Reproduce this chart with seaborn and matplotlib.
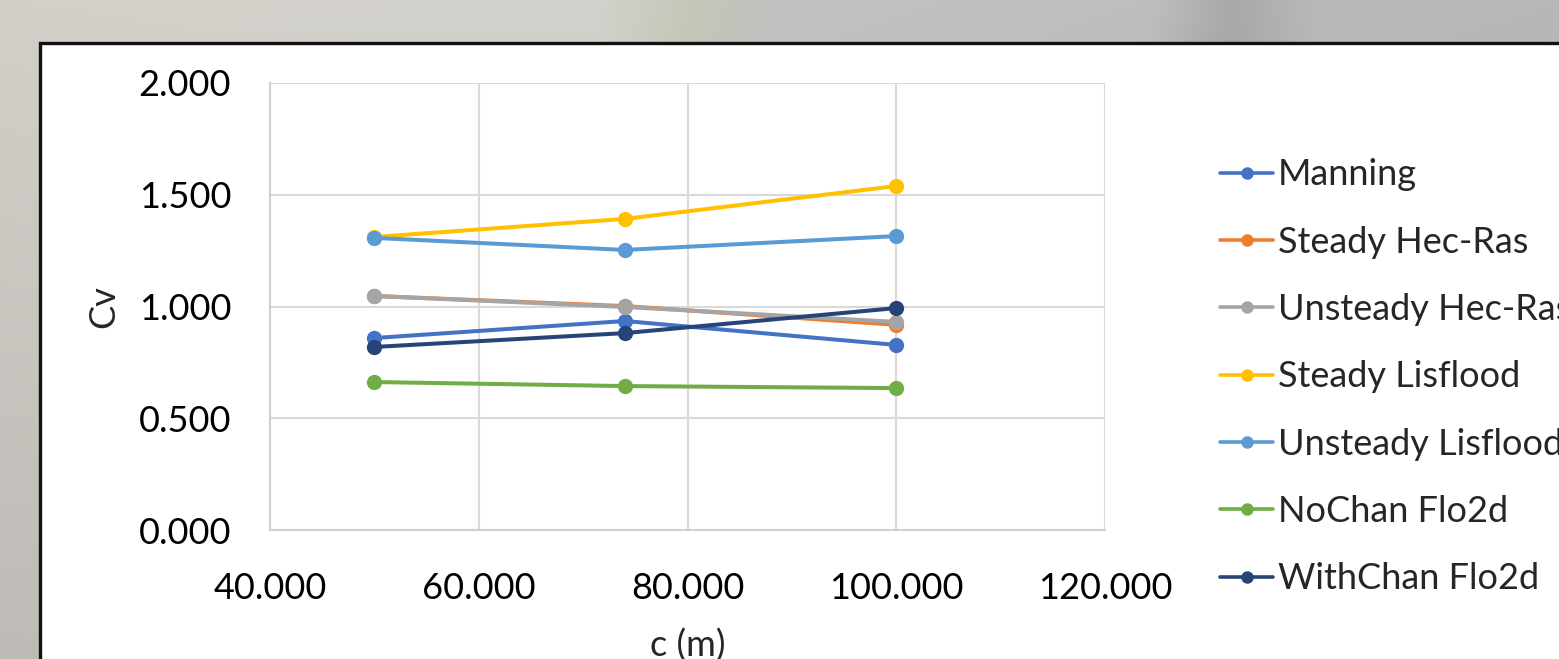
import numpy as np
import pandas as pd
import matplotlib
matplotlib.use("Agg")
import matplotlib.pyplot as plt
from matplotlib.patches import Rectangle
from matplotlib.ticker import FuncFormatter, MultipleLocator
import seaborn as sns

# Channel width c (m) and coefficient of variation per model
c_values = [50.0, 74.0, 100.0]
manning = [0.859, 0.935, 0.828]
steady_hecras = [1.047, 1.002, 0.918]
unsteady_hecras = [1.047, 0.998, 0.931]
steady_lisflood = [1.311, 1.392, 1.539]
unsteady_lisflood = [1.307, 1.253, 1.315]
nochan_flo2d = [0.662, 0.644, 0.635]
withchan_flo2d = [0.819, 0.881, 0.993]

series_names = ["Manning", "Steady Hec-Ras", "Unsteady Hec-Ras", "Steady Lisflood",
                "Unsteady Lisflood", "NoChan Flo2d", "WithChan Flo2d"]
series_values = [manning, steady_hecras, unsteady_hecras, steady_lisflood,
                 unsteady_lisflood, nochan_flo2d, withchan_flo2d]
series_colors = ["#4472C4", "#ED7D31", "#A5A5A5", "#FFC000",
                 "#5B9BD5", "#70AD47", "#264478"]

x_ticks = [40, 60, 80, 100, 120]
y_ticks = [0.0, 0.5, 1.0, 1.5, 2.0]

df = pd.DataFrame(
    [(name, c, v) for name, vals in zip(series_names, series_values)
     for c, v in zip(c_values, vals)],
    columns=["series", "c", "Cv"],
)

sns.set_theme(style="white")
plt.rcParams["font.family"] = ["Lato", "DejaVu Sans"]

W, H = 1559, 659
fig = plt.figure(figsize=(W / 100, H / 100), dpi=100)

# Backdrop: soft grey gradient with a white chart panel on top
bg = fig.add_axes([0, 0, 1, 1], zorder=-5)
bg.set_axis_off()
stops_x = np.array([0, 200, 600, 690, 760, 1150, 1230, 1320, 1559])
stops_c = np.array([
    [211, 208, 202], [212, 209, 203], [210, 209, 204], [196, 200, 184],
    [194, 194, 192], [190, 190, 188], [168, 169, 166], [186, 185, 188],
    [184, 183, 186],
]) / 255.0
cols = np.arange(W)
row = np.stack([np.interp(cols, stops_x, stops_c[:, k]) for k in range(3)], axis=-1)
shade = np.linspace(1.0, 0.9, H)[:, None, None]
grad = np.clip(row[None, :, :] * shade, 0, 1)
bg.imshow(grad, extent=[0, W, 0, H], origin="upper", aspect="auto", interpolation="bilinear")
bg.add_patch(Rectangle((40, -20), W, H - 43 + 20, facecolor="white",
                       edgecolor="#111111", linewidth=2.4))
bg.set_xlim(0, W)
bg.set_ylim(0, H)

ax = fig.add_axes([270 / W, 1 - 530 / H, (1105 - 270) / W, (530 - 83) / H])
ax.set_facecolor("white")

sns.lineplot(
    data=df, x="c", y="Cv", hue="series", hue_order=series_names,
    palette=dict(zip(series_names, series_colors)), marker="o",
    markersize=11, markeredgewidth=0, linewidth=2.9, ax=ax,
)

ax.set_xlim(40, 120)
ax.set_ylim(0, 2)
ax.xaxis.set_major_locator(MultipleLocator(20))
ax.yaxis.set_major_locator(MultipleLocator(0.5))
ax.set_xticks(x_ticks)
ax.set_yticks(y_ticks)
fmt = FuncFormatter(lambda v, p: f"{v:.3f}")
ax.xaxis.set_major_formatter(fmt)
ax.yaxis.set_major_formatter(fmt)
ax.grid(True, color="#d9d9d9", linewidth=1.5)
ax.set_axisbelow(True)
for side in ["top", "right"]:
    ax.spines[side].set_visible(False)
for side in ["left", "bottom"]:
    ax.spines[side].set_color("#d0d0d0")
    ax.spines[side].set_linewidth(1.5)
ax.tick_params(axis="both", length=0, labelsize=26, colors="black")
ax.tick_params(axis="y", pad=28)
ax.tick_params(axis="x", pad=30)
ax.set_xlabel("c (m)", fontsize=26, labelpad=17)
ax.set_ylabel("Cv", fontsize=26, labelpad=13)

leg = ax.legend(
    loc="upper left", bbox_to_anchor=(1206 / W, 1 - 144 / H),
    bbox_transform=fig.transFigure, frameon=False, fontsize=26,
    handlelength=1.45, handletextpad=0.15, labelspacing=0.95, borderaxespad=0,
)
for h in leg.legend_handles:
    h.set_markersize(9)
    h.set_linewidth(2.6)

fig.savefig("out.png", dpi=100)
